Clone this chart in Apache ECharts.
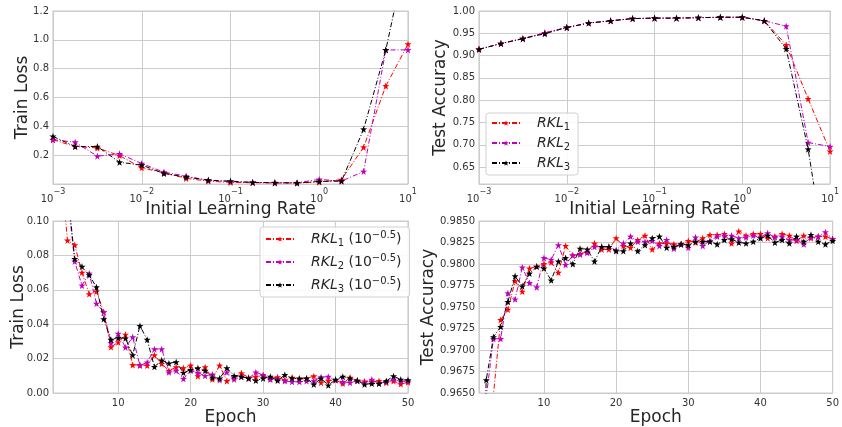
<!DOCTYPE html>
<html><head><meta charset="utf-8">
<script src="https://cdn.jsdelivr.net/npm/echarts@6/dist/echarts.min.js"></script>
<style>html,body{margin:0;padding:0;background:#fff}#c{width:842px;height:427px}</style>
</head><body><div id="c"></div>
<script>
// ---- data ----
const lrExponents = [-3, -2.75, -2.5, -2.25, -2, -1.75, -1.5, -1.25, -1, -0.75, -0.5, -0.25, 0, 0.25, 0.5, 0.75, 1];
const lrLossRKL1 = [0.307, 0.26, 0.25, 0.197, 0.112, 0.078, 0.039, 0.02, 0.011, 0.009, 0.007, 0.007, 0.014, 0.03, 0.255, 0.68, 0.97];
const lrLossRKL2 = [0.307, 0.29, 0.193, 0.209, 0.142, 0.082, 0.055, 0.025, 0.016, 0.011, 0.009, 0.009, 0.032, 0.02, 0.087, 0.93, 0.93];
const lrLossRKL3 = [0.33, 0.26, 0.26, 0.151, 0.131, 0.073, 0.048, 0.027, 0.02, 0.011, 0.009, 0.007, 0.018, 0.02, 0.38, 0.93, 1.65];
const lrAccRKL1 = [0.914, 0.927, 0.938, 0.951, 0.963, 0.973, 0.978, 0.983, 0.984, 0.984, 0.985, 0.986, 0.986, 0.978, 0.924, 0.803, 0.685];
const lrAccRKL2 = [0.914, 0.927, 0.938, 0.951, 0.963, 0.973, 0.978, 0.983, 0.984, 0.984, 0.985, 0.986, 0.986, 0.978, 0.966, 0.705, 0.696];
const lrAccRKL3 = [0.914, 0.927, 0.938, 0.949, 0.963, 0.973, 0.978, 0.983, 0.984, 0.984, 0.985, 0.986, 0.986, 0.978, 0.915, 0.69, 0.38];

const epochs = [1,2,3,4,5,6,7,8,9,10,11,12,13,14,15,16,17,18,19,20,21,22,23,24,25,26,27,28,29,30,31,32,33,34,35,36,37,38,39,40,41,42,43,44,45,46,47,48,49,50];
const epLossRKL1 = [0.3, 0.134, 0.0887, 0.086, 0.070, 0.0575, 0.059, 0.047, 0.0267, 0.0295, 0.034, 0.0163, 0.0163, 0.016, 0.022, 0.017, 0.013, 0.015, 0.0145, 0.016, 0.0098, 0.015, 0.008, 0.016, 0.007, 0.009, 0.0115, 0.009, 0.0095, 0.010, 0.0085, 0.0092, 0.0075, 0.009, 0.008, 0.0085, 0.0098, 0.006, 0.0072, 0.0075, 0.0055, 0.009, 0.0072, 0.0068, 0.0065, 0.007, 0.006, 0.007, 0.0052, 0.0062];
const epLossRKL2 = [0.3, 0.16, 0.115, 0.0765, 0.0625, 0.0695, 0.052, 0.047, 0.029, 0.0345, 0.0265, 0.0325, 0.016, 0.0178, 0.0255, 0.0255, 0.012, 0.013, 0.0083, 0.013, 0.0118, 0.010, 0.0108, 0.0075, 0.012, 0.008, 0.0095, 0.0085, 0.012, 0.0105, 0.0078, 0.0082, 0.007, 0.0065, 0.0065, 0.007, 0.007, 0.0092, 0.0095, 0.0075, 0.0065, 0.006, 0.007, 0.006, 0.0078, 0.0055, 0.0065, 0.0078, 0.0068, 0.0068];
const epLossRKL3 = [0.3, 0.17, 0.118, 0.078, 0.0735, 0.0685, 0.0615, 0.043, 0.031, 0.032, 0.0318, 0.022, 0.039, 0.031, 0.0152, 0.019, 0.0172, 0.018, 0.0118, 0.0135, 0.0145, 0.013, 0.009, 0.0085, 0.0145, 0.010, 0.0095, 0.0085, 0.0072, 0.0085, 0.0095, 0.0072, 0.0105, 0.0085, 0.0085, 0.0085, 0.005, 0.0085, 0.0045, 0.0078, 0.0095, 0.0085, 0.0072, 0.005, 0.0055, 0.0055, 0.007, 0.0098, 0.0078, 0.0075];
const epAccRKL1 = [0.94, 0.958, 0.9648, 0.9735, 0.9747, 0.9780, 0.9768, 0.9795, 0.9797, 0.9800, 0.9802, 0.9790, 0.9821, 0.9810, 0.9812, 0.9814, 0.9824, 0.9817, 0.9817, 0.9830, 0.9821, 0.9819, 0.9828, 0.9833, 0.9817, 0.9824, 0.9824, 0.9823, 0.9823, 0.9827, 0.9825, 0.9830, 0.9834, 0.9834, 0.9835, 0.9824, 0.9838, 0.9833, 0.9835, 0.9835, 0.9830, 0.9832, 0.9835, 0.9833, 0.9827, 0.9833, 0.9830, 0.9832, 0.9832, 0.9829];
const epAccRKL2 = [0.94, 0.9645, 0.9713, 0.9713, 0.9766, 0.9759, 0.9796, 0.9778, 0.9773, 0.9807, 0.9805, 0.9822, 0.9799, 0.9810, 0.9811, 0.9813, 0.9820, 0.9820, 0.9820, 0.9816, 0.9824, 0.9832, 0.9826, 0.9826, 0.9827, 0.9821, 0.9828, 0.9818, 0.9823, 0.9819, 0.9831, 0.9821, 0.9827, 0.9832, 0.9833, 0.9833, 0.9830, 0.9831, 0.9833, 0.9831, 0.9836, 0.9831, 0.9832, 0.9828, 0.9828, 0.9823, 0.9831, 0.9832, 0.9837, 0.9829];
const epAccRKL3 = [0.94, 0.9665, 0.9715, 0.9727, 0.9756, 0.9786, 0.9774, 0.9789, 0.9797, 0.9795, 0.9781, 0.9803, 0.9807, 0.9800, 0.9818, 0.9817, 0.9803, 0.9820, 0.9820, 0.9815, 0.9815, 0.9824, 0.9815, 0.9822, 0.9830, 0.9832, 0.9819, 0.9820, 0.9823, 0.9822, 0.9826, 0.9826, 0.9826, 0.9823, 0.9828, 0.9829, 0.9825, 0.9824, 0.9826, 0.9830, 0.9833, 0.9825, 0.9828, 0.9824, 0.9832, 0.9826, 0.9834, 0.9826, 0.9823, 0.9827];

const seriesNamesTop = ['RKL1', 'RKL2', 'RKL3'];
const seriesNamesBottom = ['RKL1 (10^-0.5)', 'RKL2 (10^-0.5)', 'RKL3 (10^-0.5)'];
const colors = ['#ff0000', '#bf00bf', '#000000'];

// ---- chart ----
const FONT = 'DejaVu Sans';
const TXT = '#262626';
const GRIDC = '#cccccc';
const STAR = 'path://M0,-10 L2.35,-3.24 L9.51,-3.09 L3.8,1.24 L5.88,8.09 L0,4 L-5.88,8.09 L-3.8,1.24 L-9.51,-3.09 L-2.35,-3.24 Z';

const grids = [
  {left: 53, top: 11, width: 355, height: 173},
  {left: 479, top: 11, width: 354, height: 173},
  {left: 53, top: 221, width: 355, height: 173},
  {left: 479, top: 221, width: 354, height: 173}
].map(g => Object.assign({show: true, borderColor: GRIDC, borderWidth: 1.2, backgroundColor: '#fff'}, g));

const labelBase = {color: '#333', fontFamily: FONT, fontSize: 10};
const splitLine = {show: true, lineStyle: {color: GRIDC, width: 1}};
const nameStyle = {color: TXT, fontFamily: FONT, fontSize: 17};

function logX(gi) {
  return {
    type: 'log', logBase: 10, gridIndex: gi, min: 0.001, max: 10,
    axisLine: {show: false}, axisTick: {show: false}, minorTick: {show: false},
    splitLine: splitLine,
    axisLabel: Object.assign({}, labelBase, {
      margin: 4,
      formatter: v => {
        const e = Math.round(Math.log10(v));
        return '{b|10}{s|' + (e < 0 ? '\u2212' + (-e) : e) + '}';
      },
      rich: {
        b: {fontFamily: FONT, fontSize: 10, color: '#333', lineHeight: 16, verticalAlign: 'bottom'},
        s: {fontFamily: FONT, fontSize: 8, color: '#333', lineHeight: 12, verticalAlign: 'top'}
      }
    }),
    name: 'Initial Learning Rate', nameLocation: 'middle', nameGap: 17, nameMoveOverlap: false,
    nameTextStyle: nameStyle
  };
}
function epochX(gi) {
  return {
    type: 'value', gridIndex: gi, min: 1, max: 50, minInterval: 10, maxInterval: 10,
    axisLine: {show: false}, axisTick: {show: false},
    splitLine: splitLine,
    axisLabel: Object.assign({}, labelBase, {margin: 5, showMinLabel: false}),
    name: 'Epoch', nameLocation: 'middle', nameGap: 16, nameMoveOverlap: false, nameTextStyle: nameStyle
  };
}
function yAx(gi, opts, name, gap, fmt, hideMin) {
  return Object.assign({
    type: 'value', gridIndex: gi,
    axisLine: {show: false}, axisTick: {show: false},
    splitLine: splitLine,
    axisLabel: Object.assign({}, labelBase, {margin: 4, formatter: fmt, showMinLabel: !hideMin}),
    name: name, nameLocation: 'middle', nameGap: gap, nameMoveOverlap: false, nameTextStyle: nameStyle
  }, opts);
}

function mkSeries(name, xs, ys, ci, gi) {
  return {
    type: 'line', name: name, xAxisIndex: gi, yAxisIndex: gi,
    data: xs.map((x, i) => [x, ys[i]]),
    symbol: STAR, symbolSize: 7, showAllSymbol: true,
    lineStyle: {color: colors[ci], width: 1, type: [5, 2, 1, 2]},
    itemStyle: {color: colors[ci]},
    clip: true, z: 3 + ci
  };
}

const lrs = lrExponents.map(e => Math.pow(10, e));

const series = [
  mkSeries(seriesNamesTop[0], lrs, lrLossRKL1, 0, 0),
  mkSeries(seriesNamesTop[1], lrs, lrLossRKL2, 1, 0),
  mkSeries(seriesNamesTop[2], lrs, lrLossRKL3, 2, 0),
  mkSeries(seriesNamesTop[0], lrs, lrAccRKL1, 0, 1),
  mkSeries(seriesNamesTop[1], lrs, lrAccRKL2, 1, 1),
  mkSeries(seriesNamesTop[2], lrs, lrAccRKL3, 2, 1),
  mkSeries(seriesNamesBottom[0], epochs, epLossRKL1, 0, 2),
  mkSeries(seriesNamesBottom[1], epochs, epLossRKL2, 1, 2),
  mkSeries(seriesNamesBottom[2], epochs, epLossRKL3, 2, 2),
  mkSeries(seriesNamesBottom[0], epochs, epAccRKL1, 0, 3),
  mkSeries(seriesNamesBottom[1], epochs, epAccRKL2, 1, 3),
  mkSeries(seriesNamesBottom[2], epochs, epAccRKL3, 2, 3)
];

const richLegend = {
  i: {fontFamily: FONT, fontStyle: 'italic', fontSize: 14, color: TXT, lineHeight: 18, verticalAlign: 'middle'},
  sub: {fontFamily: FONT, fontSize: 10, color: TXT, lineHeight: 10, verticalAlign: 'bottom'},
  n: {fontFamily: FONT, fontSize: 14, color: TXT, lineHeight: 18, verticalAlign: 'middle'},
  sup: {fontFamily: FONT, fontSize: 10, color: TXT, lineHeight: 10, verticalAlign: 'top'}
};

const option = {
  animation: false,
  backgroundColor: '#fff',
  grid: grids,
  xAxis: [logX(0), logX(1), epochX(2), epochX(3)],
  yAxis: [
    yAx(0, {min: 0, max: 1.2, interval: 0.2}, 'Train Loss', 22, v => v.toFixed(1), true),
    yAx(1, {min: 0.612, max: 1.0, minInterval: 0.05, maxInterval: 0.05}, 'Test Accuracy', 30, v => v.toFixed(2), true),
    yAx(2, {min: 0, max: 0.1, interval: 0.02}, 'Train Loss', 26, v => v.toFixed(2), false),
    yAx(3, {min: 0.965, max: 0.985, interval: 0.0025}, 'Test Accuracy', 42, v => v.toFixed(4), false)
  ],
  legend: [
    {
      data: seriesNamesTop, orient: 'vertical', left: 486, top: 113,
      itemWidth: 28, itemHeight: 7, itemGap: 4,
      padding: [3, 8, 3, 5],
      backgroundColor: 'rgba(255,255,255,0.85)', borderColor: '#d0d0d0', borderWidth: 1, borderRadius: 3,
      formatter: n => '{i|RKL}{sub|' + n.slice(3, 4) + '}',
      textStyle: {rich: richLegend, padding: [0, 0, 0, 12]}
    },
    {
      data: seriesNamesBottom, orient: 'vertical', left: 260, top: 227,
      itemWidth: 28, itemHeight: 7, itemGap: 5,
      padding: [3, 8, 3, 5],
      backgroundColor: 'rgba(255,255,255,0.85)', borderColor: '#d0d0d0', borderWidth: 1, borderRadius: 3,
      formatter: n => '{i|RKL}{sub|' + n.slice(3, 4) + '}{n| (10}{sup|\u22120.5}{n|)}',
      textStyle: {rich: richLegend, padding: [0, 0, 0, 12]}
    }
  ],
  series: series
};

const chart = echarts.init(document.getElementById('c'), null, {renderer: 'canvas'});
chart.setOption(option);
</script></body></html>
